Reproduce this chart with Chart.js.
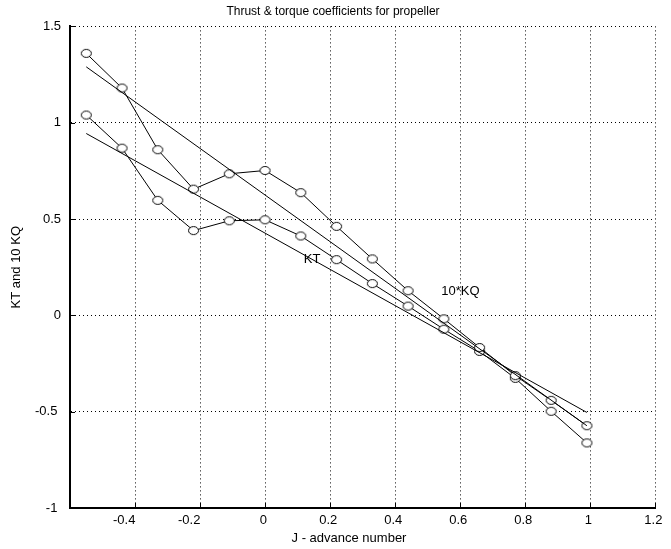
<!DOCTYPE html>
<html lang="en">
<head>
  <meta charset="UTF-8">
  <title>Thrust & torque coefficients for propeller</title>
  <script src="https://cdn.jsdelivr.net/npm/chart.js"></script>
  <style>
    body { margin: 0; background: #fff; }
    canvas { display: block; }
  </style>
</head>
<body>
  <canvas id="grafico" width="671" height="549"></canvas>

  <script>
    // valores
    const advanceJ = [-0.55, -0.44, -0.33, -0.22, -0.11, 0, 0.11, 0.22, 0.33, 0.44, 0.55, 0.66, 0.77, 0.88, 0.99];
    const kq10 = [1.36, 1.18, 0.86, 0.655, 0.735, 0.752, 0.637, 0.462, 0.293, 0.128, -0.018, -0.167, -0.313, -0.441, -0.573];
    const kt = [1.04, 0.868, 0.597, 0.44, 0.491, 0.496, 0.412, 0.289, 0.165, 0.048, -0.072, -0.187, -0.327, -0.498, -0.662];

    // rectas ajustadas (extremos)
    const fitJ = [-0.55, 0.99];
    const kq10Fit = [1.29, -0.573];
    const ktFit = [0.944, -0.504];

    const xTicks = [-0.4, -0.2, 0, 0.2, 0.4, 0.6, 0.8, 1, 1.2];
    const xTickLabels = ['-0.4', '-0.2', '0', '0.2', '0.4', '0.6', '0.8', '1', '1.2'];
    const yTicks = [-1, -0.5, 0, 0.5, 1, 1.5];
    const yTickLabels = ['-1', '-0.5', '0', '0.5', '1', '1.5'];

    const noteTexts = ['KT', '10*KQ'];
    const noteJ = [0.119, 0.542];
    const noteY = [0.288, 0.123];

    const fonte = '"Liberation Sans", Arial, Helvetica, sans-serif';

    // marcador: elipse vazia (fundo branco)
    const marcador = document.createElement('canvas');
    marcador.width = 13;
    marcador.height = 11;
    const mctx = marcador.getContext('2d');
    mctx.strokeStyle = '#000';
    mctx.fillStyle = '#fff';
    mctx.lineWidth = 1;
    mctx.beginPath();
    mctx.ellipse(6.5, 5.5, 5, 4, 0, 0, Math.PI * 2);
    mctx.fill();
    mctx.stroke();

    const pontos = (xs, ys) => xs.map((x, i) => ({ x: x, y: ys[i] }));

    const extras = {
      id: 'extras',
      afterDraw(chart) {
        const ctx = chart.ctx;
        const xs = chart.scales.x;
        const ys = chart.scales.y;
        const area = chart.chartArea;

        // marcas internas dos eixos
        ctx.save();
        ctx.strokeStyle = '#000';
        ctx.lineWidth = 1;
        ctx.beginPath();
        xTicks.forEach(v => {
          const px = Math.round(xs.getPixelForValue(v)) + 0.5;
          ctx.moveTo(px, area.bottom);
          ctx.lineTo(px, area.bottom - 5);
        });
        yTicks.forEach(v => {
          const py = Math.round(ys.getPixelForValue(v)) + 0.5;
          ctx.moveTo(area.left, py);
          ctx.lineTo(area.left + 5, py);
        });
        ctx.stroke();

        ctx.fillStyle = '#000';
        ctx.font = '13px ' + fonte;
        ctx.textAlign = 'left';
        ctx.textBaseline = 'middle';
        noteTexts.forEach((t, i) => {
          ctx.fillText(t, xs.getPixelForValue(noteJ[i]), ys.getPixelForValue(noteY[i]));
        });

        ctx.textAlign = 'center';
        ctx.fillText('J - advance number', 349, 538);
        ctx.restore();
      }
    };

    new Chart(document.getElementById('grafico').getContext('2d'), {
      type: 'scatter',
      data: {
        datasets: [
          {
            data: pontos(fitJ, kq10Fit),
            showLine: true,
            borderColor: '#000',
            borderWidth: 1,
            pointRadius: 0
          },
          {
            data: pontos(fitJ, ktFit),
            showLine: true,
            borderColor: '#000',
            borderWidth: 1,
            pointRadius: 0
          },
          {
            data: pontos(advanceJ, kq10),
            showLine: true,
            borderColor: '#000',
            borderWidth: 1,
            pointStyle: marcador,
            pointRadius: 5
          },
          {
            data: pontos(advanceJ, kt),
            showLine: true,
            borderColor: '#000',
            borderWidth: 1,
            pointStyle: marcador,
            pointRadius: 5
          }
        ]
      },
      options: {
        responsive: false,
        animation: false,
        devicePixelRatio: 1,
        layout: { padding: { left: 0, right: 5, top: 0, bottom: 0 } },
        plugins: {
          legend: { display: false },
          tooltip: { enabled: false },
          title: {
            display: true,
            text: 'Thrust & torque coefficients for propeller',
            color: '#000',
            font: { family: fonte, size: 12, weight: 'normal' },
            padding: { top: 4, bottom: 8 }
          }
        },
        scales: {
          x: {
            type: 'linear',
            min: -0.6,
            max: 1.2,
            afterBuildTicks: s => { s.ticks = xTicks.map(v => ({ value: v })); },
            afterFit: s => { s.height = 41; },
            grid: { color: '#000', lineWidth: 1, drawTicks: false },
            border: { display: true, color: '#000', width: 2, dash: [1, 3] },
            ticks: {
              color: '#000',
              padding: 5,
              maxRotation: 0,
              font: { family: fonte, size: 13 },
              callback: (v, i) => xTickLabels[i] + ' '.repeat(xTicks[i] < 0 ? 6 : 1)
            }
          },
          y: {
            type: 'linear',
            min: -1,
            max: 1.5,
            afterBuildTicks: s => { s.ticks = yTicks.map(v => ({ value: v })); },
            afterFit: s => { s.width = 70; },
            grid: { color: '#000', lineWidth: 1, drawTicks: false },
            border: { display: true, color: '#000', width: 2, dash: [1, 3] },
            ticks: {
              color: '#000',
              padding: 9,
              font: { family: fonte, size: 13 },
              callback: (v, i) => yTickLabels[i] + (yTicks[i] < 0 ? ' ' : '')
            },
            title: {
              display: true,
              text: 'KT and 10 KQ',
              color: '#000',
              font: { family: fonte, size: 13 },
              padding: { top: 9, bottom: 0 }
            }
          }
        }
      },
      plugins: [extras]
    });
  </script>
</body>
</html>
